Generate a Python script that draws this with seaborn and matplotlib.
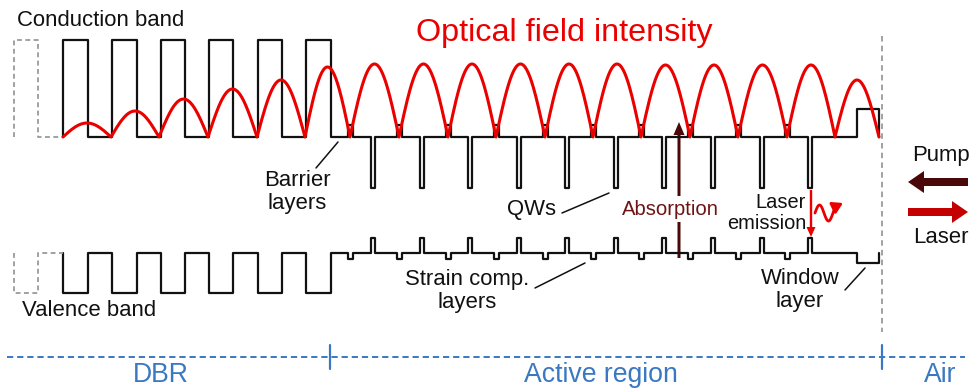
import numpy as np
import pandas as pd
import matplotlib
matplotlib.use("Agg")
import matplotlib.pyplot as plt
import seaborn as sns
from matplotlib.patches import FancyArrow

# ---------------- data (diagram units = reference pixels) ----------------
dbr_layer_left = [63, 112, 161, 209, 258, 306]      # high-gap DBR layers
dbr_layer_right = [88, 137, 185, 233, 282, 331]
ghost_layer = [14, 38]                               # dashed (omitted) DBR layer
cb_low, cb_high = 137, 40                            # conduction band levels
vb_high, vb_low = 253, 293                           # valence band levels
qw_centers = [373, 422, 470, 519, 567, 616, 664, 713, 762, 810]
sc_centers = [350, 399, 448, 496, 545, 593, 641, 690, 738, 787]
qw_cb_level, qw_vb_level = 188, 238
sc_cb_level, sc_vb_level = 125, 259
window_layer = [857, 879]
window_cb_level, window_vb_level = 109, 263
field_nodes = [63, 111, 159, 208, 257, 305, 350, 399, 448, 496, 545, 593,
               641, 690, 738, 787, 835, 879]
field_peaks = [14, 26, 38, 48, 57, 70, 73, 73, 73, 73, 73, 73, 72, 72, 72,
               72, 57]
region_names = ["DBR", "Active region", "Air"]
region_bounds = [7, 330, 882, 965]

# ---------------- style ----------------
sns.set_theme(style="white")
plt.rcParams["font.family"] = ["Liberation Sans", "DejaVu Sans"]
plt.rcParams["lines.scale_dashes"] = False

fig = plt.figure(figsize=(9.72, 3.89), dpi=100)
ax = fig.add_axes([0, 0, 1, 1])
ax.set_xlim(0, 972)
ax.set_ylim(389, 0)
ax.axis("off")

BLACK = "#111111"
RED = "#eb0000"
DARK = "#4a0808"
BLUE = "#3a78c2"
GRAY = "#9a9a9a"


def band_path(base, dbr_level, qw_level, sc_level, win_level):
    xs, ys = [dbr_layer_left[0]], [base]
    for l, r in zip(dbr_layer_left, dbr_layer_right):
        xs += [l, l, r, r]
        ys += [base, dbr_level, dbr_level, base]
    events = [(c, 4, qw_level) for c in qw_centers] + \
             [(c, 5, sc_level) for c in sc_centers]
    events.sort()
    for c, w, lev in events:
        a, b = c - w / 2, c + w / 2
        xs += [a, a, b, b]
        ys += [base, lev, lev, base]
    a, b = window_layer
    xs += [a, a, b, b]
    ys += [base, win_level, win_level, base]
    return xs, ys


def ghost_path(base, level):
    a, b = ghost_layer
    return [a, a, b, b, dbr_layer_left[0]], [base, level, level, base, base]


lw_band = 1.6
# conduction band
x, y = band_path(cb_low, cb_high, qw_cb_level, sc_cb_level, window_cb_level)
sns.lineplot(x=x, y=y, sort=False, estimator=None, ax=ax, color=BLACK,
             linewidth=lw_band)
gx, gy = ghost_path(cb_low, cb_high)
sns.lineplot(x=gx, y=gy, sort=False, estimator=None, ax=ax, color=GRAY,
             linewidth=1.3, linestyle=(0, (3.5, 2.5)))
# valence band
x, y = band_path(vb_high, vb_low, qw_vb_level, sc_vb_level, window_vb_level)
sns.lineplot(x=x, y=y, sort=False, estimator=None, ax=ax, color=BLACK,
             linewidth=lw_band)
gx, gy = ghost_path(vb_high, vb_low)
sns.lineplot(x=gx, y=gy, sort=False, estimator=None, ax=ax, color=GRAY,
             linewidth=1.3, linestyle=(0, (3.5, 2.5)))

# optical field intensity (arches)
fx, fy = [], []
for i, amp in enumerate(field_peaks):
    t = np.linspace(0, 1, 60)
    fx += list(field_nodes[i] + (field_nodes[i + 1] - field_nodes[i]) * t)
    fy += list(cb_low - amp * np.sin(np.pi * t))
sns.lineplot(x=fx, y=fy, sort=False, estimator=None, ax=ax, color=RED,
             linewidth=2.2)

# air boundary
ax.plot([882, 882], [36, 332], color=GRAY, linewidth=1.3,
        linestyle=(0, (4, 3)))

# region axis at bottom
ax.plot([region_bounds[0], region_bounds[-1]], [357, 357], color=BLUE,
        linewidth=1.4, linestyle=(0, (4.5, 2.8)))
for xb in region_bounds[1:-1]:
    ax.plot([xb, xb], [345, 369], color=BLUE, linewidth=1.6)
for name, xc in zip(region_names, [161, 601, 940]):
    ax.text(xc, 375, name, color=BLUE, fontsize=19.2, ha="center",
            va="center")

# labels
fs = 15.9
ax.text(17, 20, "Conduction band", fontsize=fs, ha="left", va="center",
        color=BLACK)
ax.text(22, 311, "Valence band", fontsize=fs, ha="left", va="center",
        color=BLACK)
ax.text(564, 33, "Optical field intensity", fontsize=23.3, ha="center",
        va="center", color=RED)
ax.text(297, 192, "Barrier\nlayers", fontsize=fs, ha="center", va="center",
        linespacing=1.15, color=BLACK)
ax.plot([316, 338], [168, 142], color=BLACK, linewidth=1.1)
ax.text(531, 209, "QWs", fontsize=fs, ha="center", va="center", color=BLACK)
ax.plot([562, 609], [213, 193], color=BLACK, linewidth=1.1)
ax.text(467, 291, "Strain comp.\nlayers", fontsize=fs, ha="center",
        va="center", linespacing=1.15, color=BLACK)
ax.plot([535, 585], [288, 263], color=BLACK, linewidth=1.1)
ax.text(800, 290, "Window\nlayer", fontsize=fs, ha="center", va="center",
        linespacing=1.15, color=BLACK)
ax.plot([845, 865], [290, 268], color=BLACK, linewidth=1.1)

# absorption arrow
ax.add_patch(FancyArrow(679, 258, 0, -136, width=3, head_width=11,
                        head_length=13, length_includes_head=True,
                        color=DARK, lw=0))
ax.text(670, 209, "Absorption", fontsize=14.6, ha="center", va="center",
        color="#6e1414",
        bbox=dict(facecolor="white", edgecolor="none", pad=2.5))

# laser emission arrow
ax.add_patch(FancyArrow(811, 190, 0, 47, width=2.4, head_width=9,
                        head_length=10, length_includes_head=True,
                        color=RED, lw=0))
ax.text(806, 213, "Laser\nemission", fontsize=14.4, ha="right", va="center",
        linespacing=1.1, color=BLACK)
wx = np.linspace(815, 836, 60)
wy = 213 - 8 * np.sin(2 * np.pi * (wx - 815) / 18)
ax.plot(wx, wy, color=RED, linewidth=2)
ax.annotate("", xy=(843, 203), xytext=(wx[-2], wy[-2]),
            arrowprops=dict(arrowstyle="-|>,head_length=0.5,head_width=0.3",
                            color=RED, lw=2, shrinkA=0, shrinkB=0))

# pump / laser arrows
ax.add_patch(FancyArrow(968, 182, -60, 0, width=8, head_width=22,
                        head_length=16, length_includes_head=True,
                        color=DARK, lw=0))
ax.add_patch(FancyArrow(908, 212, 60, 0, width=8, head_width=22,
                        head_length=16, length_includes_head=True,
                        color="#c40000", lw=0))
ax.text(941, 155, "Pump", fontsize=fs, ha="center", va="center", color=BLACK)
ax.text(941, 237, "Laser", fontsize=fs, ha="center", va="center",
        color=BLACK)

fig.savefig("out.png", dpi=100)
